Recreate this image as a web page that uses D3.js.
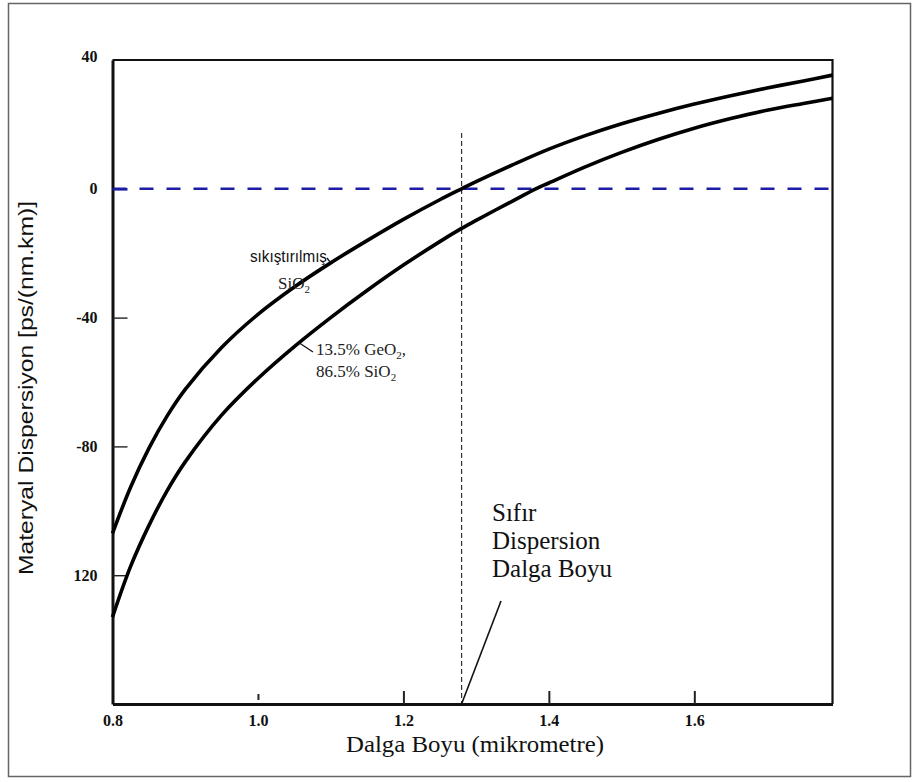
<!DOCTYPE html>
<html>
<head>
<meta charset="utf-8">
<script src="https://cdn.jsdelivr.net/npm/d3@7"></script>
<style>
  html, body { margin: 0; padding: 0; background: #fff; }
  svg { display: block; }
</style>
</head>
<body>
<svg id="chart" width="920" height="782"></svg>
<script>
// Wavelength samples (micrometre)
const wlFused = [0.80, 0.825, 0.85, 0.875, 0.90, 0.95, 1.00, 1.05, 1.10, 1.15, 1.20, 1.25, 1.28, 1.30, 1.35, 1.40, 1.45, 1.50, 1.55, 1.60, 1.65, 1.70, 1.75, 1.79];
// Material dispersion of fused SiO2, ps/(nm.km)
const dFused = [-107, -92.6, -80.6, -70.6, -62.3, -49.3, -39, -30.5, -23, -16.1, -9.5, -3.4, 0, 2.2, 7.4, 12.3, 16.5, 20.2, 23.4, 26.3, 28.9, 31.3, 33.5, 35.3];

const wlDoped = [0.80, 0.825, 0.85, 0.875, 0.90, 0.95, 1.00, 1.05, 1.10, 1.15, 1.20, 1.25, 1.28, 1.30, 1.35, 1.382, 1.40, 1.45, 1.50, 1.55, 1.60, 1.65, 1.70, 1.75, 1.79];
// Material dispersion of 13.5% GeO2 / 86.5% SiO2
const dDoped = [-133, -117.2, -104.6, -93.8, -84.8, -70.3, -58.9, -49, -40, -31.6, -23.7, -16.4, -12.3, -9.8, -3.8, 0, 1.8, 6.8, 11.3, 15.3, 18.8, 21.8, 24.4, 26.5, 28.1];

const zeroDispersionWl = 1.28;

const xTickValues = [0.8, 1.0, 1.2, 1.4, 1.6];
const xTickLabels = ["0.8", "1.0", "1.2", "1.4", "1.6"];
const yTickValues = [40, 0, -40, -80, -120];
const yTickLabels = ["40", "0", "-40", "-80", "120"];

const svg = d3.select("#chart");
const serif = "'Liberation Serif', 'Times New Roman', serif";
const sans = "'Liberation Sans', Arial, sans-serif";

// outer frame
svg.append("rect")
  .attr("x", 8.5).attr("y", 3.5).attr("width", 902).attr("height", 773)
  .attr("fill", "none").attr("stroke", "#666").attr("stroke-width", 1.5);

const plotLeft = 112.5, plotRight = 832.5, plotTop = 60, plotBottom = 704;
const x = d3.scaleLinear().domain([0.8, 1.79]).range([plotLeft, plotRight]);
const y = d3.scaleLinear().domain([-160, 40]).range([plotBottom, plotTop]);

// plot frame: top and right edges
svg.append("path")
  .attr("d", `M${plotLeft},${plotTop}H${plotRight}V${plotBottom}`)
  .attr("fill", "none").attr("stroke", "#111").attr("stroke-width", 2.2);

// zero-dispersion line (blue dashes)
svg.append("line")
  .attr("x1", x(0.8)).attr("x2", x(1.79))
  .attr("y1", y(0)).attr("y2", y(0))
  .attr("stroke", "#1c1ca6").attr("stroke-width", 2.6)
  .attr("stroke-dasharray", "14,13");

// vertical dashed marker at the zero-dispersion wavelength
svg.append("line")
  .attr("x1", x(zeroDispersionWl)).attr("x2", x(zeroDispersionWl))
  .attr("y1", 133).attr("y2", plotBottom)
  .attr("stroke", "#333").attr("stroke-width", 1.2)
  .attr("stroke-dasharray", "5,3");

// y axis
const yAxis = d3.axisLeft(y)
  .tickValues(yTickValues)
  .tickSizeInner(-15).tickSizeOuter(0).tickPadding(15)
  .tickFormat((d, i) => yTickLabels[i]);
const gy = svg.append("g").attr("transform", `translate(${plotLeft},0)`).call(yAxis);
gy.select(".domain").attr("stroke", "#111").attr("stroke-width", 3);
gy.selectAll(".tick line").attr("stroke", "#222").attr("stroke-width", 1.4);
gy.selectAll(".tick").filter(d => d === 0).select("line")
  .attr("stroke", "#1c1ca6").attr("stroke-width", 2.6);
gy.selectAll(".tick").filter(d => d === 40).select("line").remove();
gy.selectAll(".tick text")
  .attr("font-family", serif)
  .attr("font-weight", "bold").attr("font-size", 16).attr("fill", "#111");
gy.selectAll(".tick").filter(d => d === 40).select("text").attr("dy", "0.1em");

// x axis
const xAxis = d3.axisBottom(x)
  .tickValues(xTickValues)
  .tickSizeInner(-13).tickSizeOuter(0).tickPadding(11)
  .tickFormat((d, i) => xTickLabels[i]);
const gx = svg.append("g").attr("transform", `translate(0,${plotBottom})`).call(xAxis);
gx.select(".domain").attr("stroke", "#111").attr("stroke-width", 3);
gx.selectAll(".tick line").attr("stroke", "#222").attr("stroke-width", 2);
gx.selectAll(".tick").filter(d => d === 0.8).select("line").remove();
gx.selectAll(".tick").filter(d => d === 1.0).select("line").attr("y1", -4).attr("y2", -10);
gx.selectAll(".tick text")
  .attr("font-family", serif)
  .attr("font-weight", "bold").attr("font-size", 16).attr("fill", "#111");

// dispersion curves
const line = d3.line().x(d => x(d[0])).y(d => y(d[1])).curve(d3.curveCatmullRom.alpha(0.5));
svg.append("path")
  .datum(d3.zip(wlFused, dFused))
  .attr("d", line).attr("fill", "none")
  .attr("stroke", "#000").attr("stroke-width", 3.6);
svg.append("path")
  .datum(d3.zip(wlDoped, dDoped))
  .attr("d", line).attr("fill", "none")
  .attr("stroke", "#000").attr("stroke-width", 3.6);

// axis titles
svg.append("text")
  .attr("transform", "translate(28,388) rotate(-90)")
  .attr("text-anchor", "middle").attr("dominant-baseline", "middle")
  .attr("font-family", sans)
  .attr("font-size", 20).attr("fill", "#111")
  .attr("textLength", 374).attr("lengthAdjust", "spacingAndGlyphs")
  .text("Materyal Dispersiyon [ps/(nm.km)]");

svg.append("text")
  .attr("x", 475).attr("y", 752)
  .attr("text-anchor", "middle")
  .attr("font-family", serif)
  .attr("font-size", 23).attr("fill", "#111")
  .attr("textLength", 258).attr("lengthAdjust", "spacingAndGlyphs")
  .text("Dalga Boyu (mikrometre)");

// curve annotations
svg.append("text")
  .attr("x", 250).attr("y", 262)
  .attr("font-family", sans)
  .attr("font-size", 17).attr("fill", "#111")
  .attr("textLength", 77).attr("lengthAdjust", "spacingAndGlyphs")
  .text("sıkıştırılmış");
const sio2 = svg.append("text")
  .attr("x", 278).attr("y", 289)
  .attr("font-family", serif).attr("font-size", 17).attr("fill", "#222");
sio2.append("tspan").text("SiO");
sio2.append("tspan").attr("font-size", 11).attr("dy", 4).text("2");

svg.append("path")
  .attr("d", `M327,258 L${x(1.10)},${y(-23)}`)
  .attr("stroke", "#111").attr("stroke-width", 1.3).attr("fill", "none");

const ge1 = svg.append("text")
  .attr("x", 316).attr("y", 355)
  .attr("font-family", serif).attr("font-size", 17).attr("fill", "#222");
ge1.append("tspan").text("13.5% GeO");
ge1.append("tspan").attr("font-size", 11).attr("dy", 4).text("2");
ge1.append("tspan").attr("dy", -4).text(",");
const ge2 = svg.append("text")
  .attr("x", 316).attr("y", 377)
  .attr("font-family", serif).attr("font-size", 17).attr("fill", "#222");
ge2.append("tspan").text("86.5% SiO");
ge2.append("tspan").attr("font-size", 11).attr("dy", 4).text("2");

svg.append("path")
  .attr("d", `M313,352 L${x(1.057)},${y(-47.9)}`)
  .attr("stroke", "#111").attr("stroke-width", 1.3).attr("fill", "none");

// zero-dispersion wavelength callout
const callout = ["Sıfır", "Dispersion", "Dalga Boyu"];
svg.append("g").selectAll("text").data(callout).join("text")
  .attr("x", 492).attr("y", (d, i) => 521 + i * 28)
  .attr("font-family", serif).attr("font-size", 25).attr("fill", "#111")
  .text(d => d);
svg.append("line")
  .attr("x1", 501).attr("y1", 601)
  .attr("x2", x(zeroDispersionWl)).attr("y2", plotBottom)
  .attr("stroke", "#111").attr("stroke-width", 1.6);
</script>
</body>
</html>
